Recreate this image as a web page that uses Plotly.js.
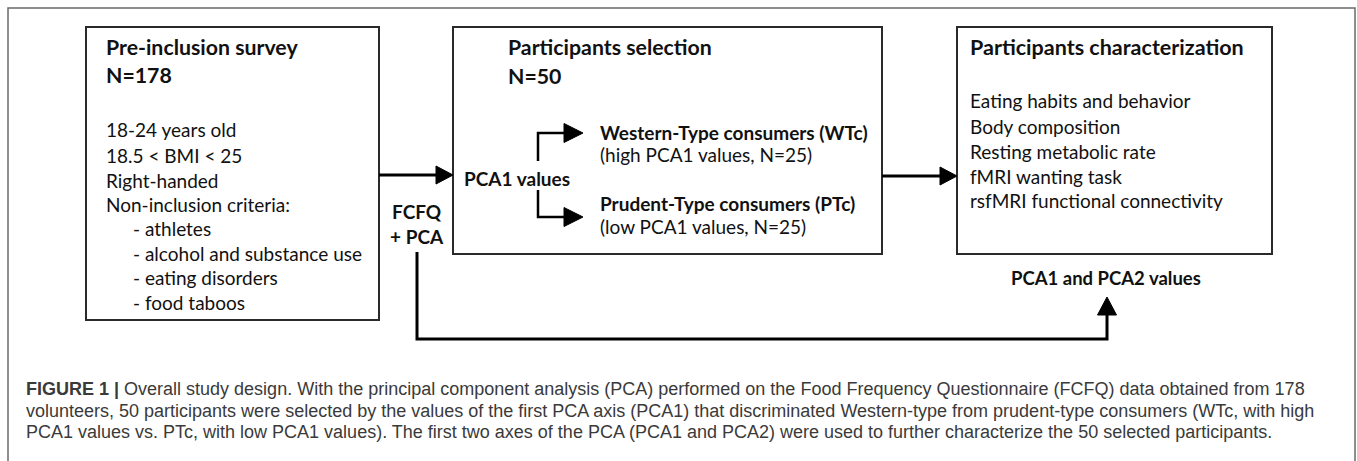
<!DOCTYPE html>
<html>
<head>
<meta charset="utf-8">
<script src="https://cdn.plot.ly/plotly-3.0.1.min.js"></script>
<style>
  html, body { margin: 0; padding: 0; background: #ffffff; }
  #chart { width: 1357px; height: 461px; }
</style>
</head>
<body>
<div id="chart"></div>
<script>
// ---- content of the diagram ----
const box1Title = ["Pre-inclusion survey", "N=178"];
const box1Criteria = ["18-24 years old", "18.5 < BMI < 25", "Right-handed", "Non-inclusion criteria:"];
const box1Exclusions = ["- athletes", "- alcohol and substance use", "- eating disorders", "- food taboos"];
const box2Title = ["Participants selection", "N=50"];
const splitLabel = "PCA1 values";
const groupNames = ["Western-Type consumers (WTc)", "Prudent-Type consumers (PTc)"];
const groupDetails = ["(high PCA1 values, N=25)", "(low PCA1 values, N=25)"];
const box3Title = "Participants characterization";
const box3Items = ["Eating habits and behavior", "Body composition", "Resting metabolic rate", "fMRI wanting task", "rsfMRI functional connectivity"];
const linkLabel = ["FCFQ", "+ PCA"];
const feedbackLabel = "PCA1 and PCA2 values";
const captionLead = "FIGURE 1 |";
const captionLines = [
  "Overall study design. With the principal component analysis (PCA) performed on the Food Frequency Questionnaire (FCFQ) data obtained from 178",
  "volunteers, 50 participants were selected by the values of the first PCA axis (PCA1) that discriminated Western-type from prudent-type consumers (WTc, with high",
  "PCA1 values vs. PTc, with low PCA1 values). The first two axes of the PCA (PCA1 and PCA2) were used to further characterize the 50 selected participants."
];

// ---- layout helpers ----
const BOXFONT = "Lato, 'Open Sans', sans-serif";
const CAPFONT = "'Liberation Sans', Arial, sans-serif";
const BOXSIZE = 19;
const TITLESIZE = 21.3;

function txt(text, x, y, opts) {
  opts = opts || {};
  return {
    text: text, x: x, y: y, xref: "x", yref: "y",
    xanchor: opts.xanchor || "left", yanchor: "middle",
    showarrow: false, align: opts.xanchor === "center" ? "center" : "left",
    font: { family: opts.family || BOXFONT, size: opts.size || BOXSIZE, color: opts.color || "#111111" }
  };
}
function rect(x0, y0, x1, y1, color, w) {
  return { type: "rect", xref: "x", yref: "y", x0: x0, y0: y0, x1: x1, y1: y1,
           line: { color: color, width: w }, fillcolor: "rgba(0,0,0,0)" };
}
function path(d, color, w, fill) {
  return { type: "path", xref: "x", yref: "y", path: d,
           line: { color: color, width: w }, fillcolor: fill || "rgba(0,0,0,0)" };
}
function headRight(xt, y, len, half) {
  return path("M" + (xt - len) + "," + (y - half) + " L" + xt + "," + y + " L" + (xt - len) + "," + (y + half) + " Z", "#000", 1, "#000");
}
function headUp(x, yt, len, half) {
  return path("M" + (x - half) + "," + (yt + len) + " L" + x + "," + yt + " L" + (x + half) + "," + (yt + len) + " Z", "#000", 1, "#000");
}

const shapes = [
  rect(8, 8, 1355, 480, "#6a6a6a", 1.5),
  rect(86, 27, 379, 320, "#2a2a2a", 2),
  rect(453, 27, 882, 254, "#2a2a2a", 2),
  rect(957, 27, 1272, 254, "#2a2a2a", 2),
  path("M379,175 L438,175", "#000", 3), headRight(453, 175, 17, 9),
  path("M882,176 L941,176", "#000", 3), headRight(957, 176, 17, 9),
  path("M538,161 L538,133 L566,133", "#000", 2.5), headRight(583, 133, 19, 9.5),
  path("M538,190 L538,217 L566,217", "#000", 2.5), headRight(583, 217, 19, 9.5),
  path("M417,252 L417,339 L1107,339 L1107,313", "#000", 3), headUp(1107, 297, 18, 9.5)
];

const ann = [];
ann.push(txt("<b>" + box1Title[0] + "</b>", 104, 47, { size: TITLESIZE }));
ann.push(txt("<b>" + box1Title[1] + "</b>", 104, 75, { size: TITLESIZE }));
[129, 155, 180, 204].forEach((y, i) => ann.push(txt(box1Criteria[i], 104, y)));
[228, 253, 277, 302].forEach((y, i) => ann.push(txt(box1Exclusions[i], 131, y)));
ann.push(txt("<b>" + box2Title[0] + "</b>", 506, 47, { size: TITLESIZE }));
ann.push(txt("<b>" + box2Title[1] + "</b>", 506, 76, { size: TITLESIZE }));
ann.push(txt("<b>" + splitLabel + "</b>", 517, 178, { xanchor: "center" }));
ann.push(txt("<b>" + groupNames[0] + "</b>", 598, 132));
ann.push(txt(groupDetails[0], 598, 154));
ann.push(txt("<b>" + groupNames[1] + "</b>", 598, 203));
ann.push(txt(groupDetails[1], 598, 226));
ann.push(txt("<b>" + box3Title + "</b>", 968, 47, { size: 21.5 }));
[100, 126, 151, 176, 200].forEach((y, i) => ann.push(txt(box3Items[i], 968, y)));
ann.push(txt("<b>" + linkLabel[0] + "</b>", 417, 211, { xanchor: "center" }));
ann.push(txt("<b>" + linkLabel[1] + "</b>", 417, 236, { xanchor: "center" }));
ann.push(txt("<b>" + feedbackLabel + "</b>", 1106, 278, { xanchor: "center", size: 18.5 }));
[389, 411, 432].forEach((y, i) => {
  const t = (i === 0 ? "<b>" + captionLead + "</b> " : "") + captionLines[i];
  ann.push(txt(t, 24, y, { family: CAPFONT, size: 18, color: "#3a3a3a" }));
});

const layout = {
  width: 1357, height: 461,
  margin: { l: 0, r: 0, t: 0, b: 0 },
  paper_bgcolor: "#ffffff", plot_bgcolor: "#ffffff",
  showlegend: false,
  xaxis: { range: [0, 1357], visible: false, fixedrange: true },
  yaxis: { range: [461, 0], visible: false, fixedrange: true },
  shapes: shapes,
  annotations: ann
};

Plotly.newPlot("chart", [], layout, { staticPlot: true, displayModeBar: false });
</script>
</body>
</html>
